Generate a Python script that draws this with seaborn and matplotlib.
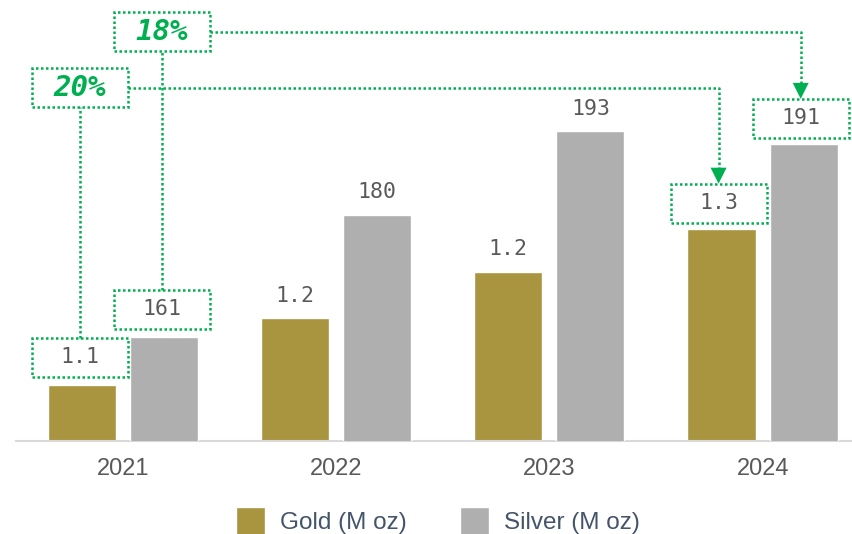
import matplotlib
matplotlib.use("Agg")
import matplotlib.pyplot as plt
import seaborn as sns
import pandas as pd
from matplotlib.patches import Rectangle, Polygon, Patch
from matplotlib.lines import Line2D
from matplotlib.transforms import IdentityTransform

# ==========================
# data
# ==========================
years = ["2021", "2022", "2023", "2024"]
gold = [1.10, 1.185, 1.245, 1.30]
silver = [161, 180, 193, 191]
gold_labels = ["1.1", "1.2", "1.2", "1.3"]
silver_labels = ["161", "180", "193", "191"]
growth_labels = ["20%", "18%"]  # gold, silver (2021 -> 2024)

GOLD = "#A99540"
SILVER = "#AFAFAF"
GREEN = "#00B050"
GREY_TXT = "#595959"
LEG_TXT = "#44546A"
AXIS = "#D9D9D9"

sns.set_style("white")
plt.rcParams["font.family"] = ["Liberation Sans", "DejaVu Sans"]

df = pd.DataFrame({
    "year": years * 2,
    "metal": ["Gold"] * len(years) + ["Silver"] * len(years),
    "value": gold + silver,
})

W, H = 852, 534
fig = plt.figure(figsize=(W / 100, H / 100), dpi=100)
# axes runs a little past the right edge (last category is cut like the original)
ax = fig.add_axes([16 / W, 93 / H, 853.3 / W, 441 / H])
ax2 = ax.twinx()

# same dodged layout on both axes, each axis keeps only its own metal
kw = dict(x="year", y="value", hue="metal", hue_order=["Gold", "Silver"],
          palette={"Gold": GOLD, "Silver": SILVER}, width=0.77, gap=0.17,
          legend=False, saturation=1)
sns.barplot(data=df, ax=ax, **kw)
sns.barplot(data=df, ax=ax2, **kw)
gold_bars = ax.containers[0]
silver_bars = ax2.containers[1]
for b in ax.containers[1]:
    b.set_visible(False)
for b in ax2.containers[0]:
    b.set_visible(False)

# separate value scales (gold on ax, silver on ax2)
ax.set_ylim(1.028, 1.593)
ax2.set_ylim(144.84, 213.35)
ax.set_xlim(-0.5, 3.5)

for a in (ax, ax2):
    a.set_yticks([])
    a.set_ylabel("")
    a.set_xlabel("")
    for s in a.spines.values():
        s.set_visible(False)
ax.spines["bottom"].set_visible(True)
ax.spines["bottom"].set_color(AXIS)
ax.spines["bottom"].set_linewidth(1.5)
ax.tick_params(axis="x", which="major", length=0, pad=12, labelsize=17, labelcolor=GREY_TXT)
ax.set_xticks([-0.5, 0.5, 1.5, 2.5, 3.5], minor=True)
ax.tick_params(axis="x", which="minor", length=6, width=1.5, color=AXIS)

# plain labels on the middle bars
lab_font = dict(family="DejaVu Sans Mono", fontsize=15.5, color=GREY_TXT, ha="center", va="center")
for a, bars, labs in ((ax, gold_bars, gold_labels), (ax2, silver_bars, silver_labels)):
    for i in range(1, len(bars) - 1):
        b = bars[i]
        a.annotate(labs[i], (b.get_x() + b.get_width() / 2, b.get_height()),
                   xytext=(0, 16), textcoords="offset points", **lab_font)

# ==========================
# dotted green callouts
# ==========================
fig.canvas.draw()
T = IdentityTransform()
BW, BH = 96, 39
LW = 1.8
DOT = (0, (1, 1))


def top_of(bar):
    bb = bar.get_window_extent()
    return (bb.x0 + bb.x1) / 2, bb.y1


def dotted(xs, ys):
    fig.add_artist(Line2D(xs, ys, transform=T, color=GREEN, lw=LW, ls=DOT))


def box(cx, y0, text, **tkw):
    fig.add_artist(Rectangle((cx - BW / 2, y0), BW, BH, fill=False, ec=GREEN,
                             lw=LW, ls=DOT, transform=T))
    fig.text(cx, y0 + BH / 2, text, transform=T, ha="center", va="center", **tkw)


pct_font = dict(family="DejaVu Sans Mono", fontsize=21, color=GREEN,
                style="italic", weight="bold")
mono = dict(family="DejaVu Sans Mono", fontsize=15.5, color=GREY_TXT)
growth_top = [68, 12]  # px from top of the figure

for k, (bars, labs) in enumerate(((gold_bars, gold_labels), (silver_bars, silver_labels))):
    cx0, t0 = top_of(bars[0])
    cx3, t3 = top_of(bars[-1])
    cx0 -= 2
    cx3 -= 3
    # first-year box
    box(cx0, t0 + 8, labs[0], **mono)
    # growth box
    gy0 = H - growth_top[k] - BH
    box(cx0, gy0, growth_labels[k], **pct_font)
    dotted([cx0, cx0], [t0 + 8 + BH, gy0])
    # last-year box with arrow
    ly0 = t3 + 6
    box(cx3, ly0, labs[-1], **mono)
    tip = ly0 + BH
    my = gy0 + BH / 2
    dotted([cx0 + BW / 2, cx3, cx3], [my, my, tip + 15])
    fig.add_artist(Polygon([(cx3 - 8, tip + 16), (cx3 + 8, tip + 16), (cx3, tip)],
                           closed=True, fc=GREEN, ec="none", transform=T))

# legend
handles = [Patch(fc=GOLD, label="Gold (M oz)"), Patch(fc=SILVER, label="Silver (M oz)")]
fig.legend(handles=handles, loc="center", bbox_to_anchor=(438 / W, 13 / H), ncol=2,
           frameon=False, fontsize=17.5, labelcolor=LEG_TXT, handlelength=1.19,
           handleheight=1.455, handletextpad=0.62, columnspacing=2.22)

fig.savefig("out.png", dpi=100)
